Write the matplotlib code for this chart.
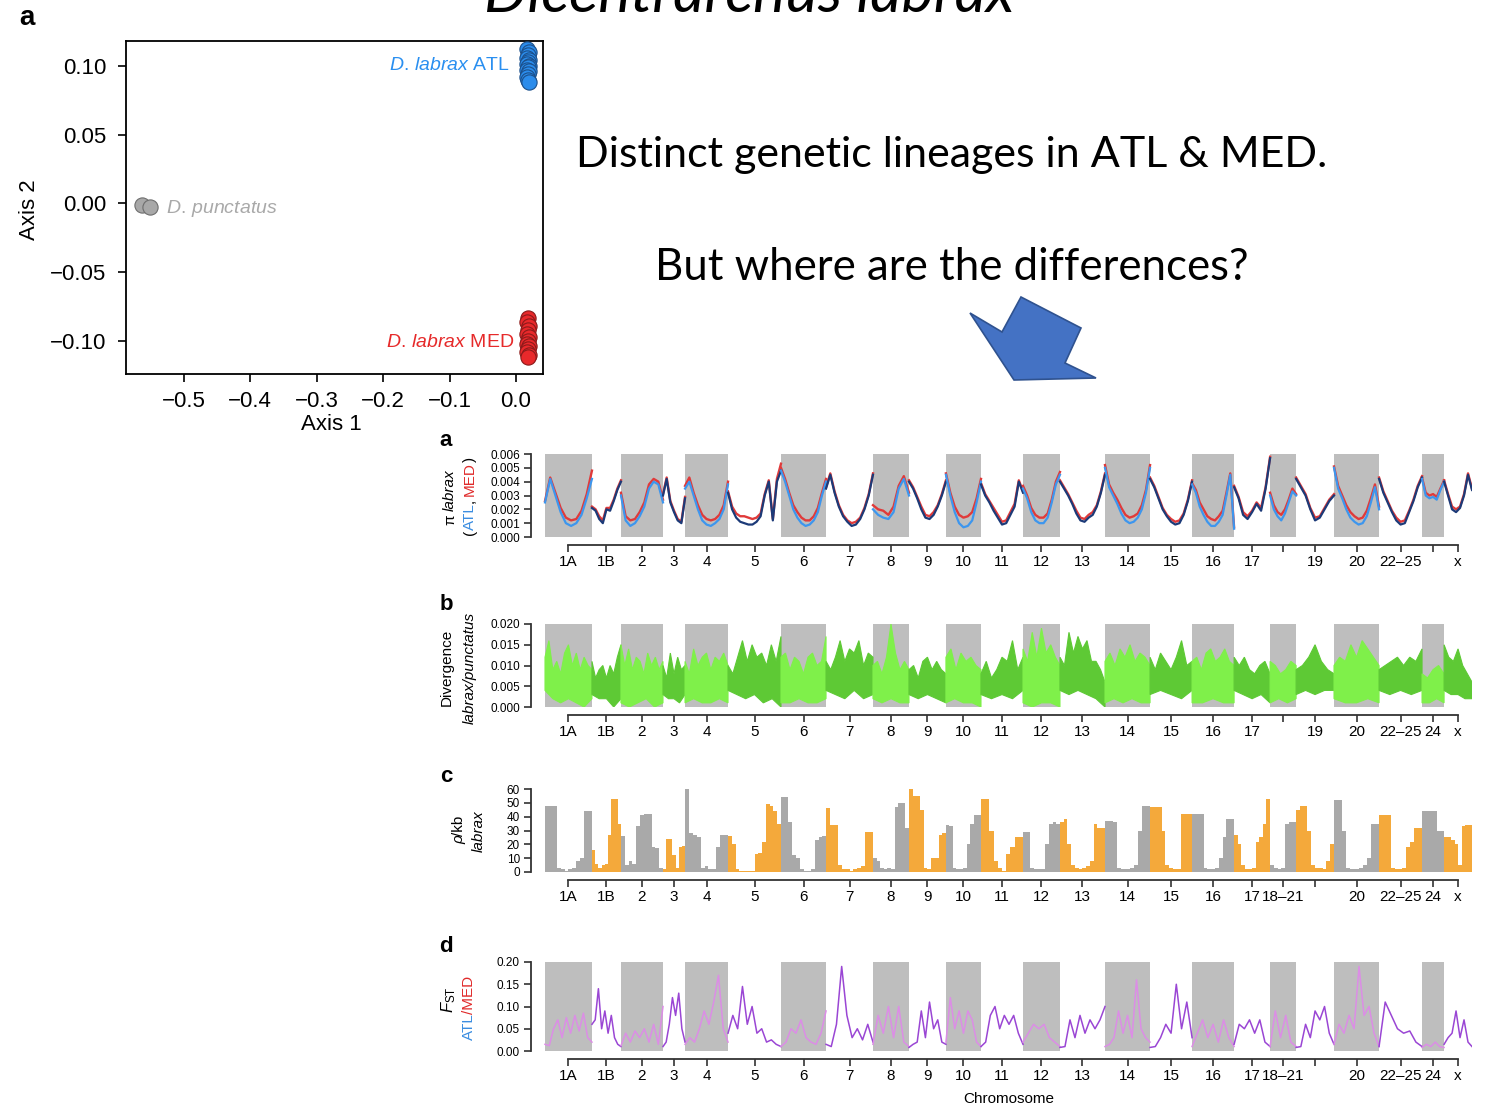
import numpy as np
import matplotlib.pyplot as plt
from matplotlib.patches import Polygon
from matplotlib.ticker import FormatStrFormatter

plt.rcParams['font.family'] = ['Liberation Sans', 'DejaVu Sans']
plt.rcParams['mathtext.fontset'] = 'custom'
plt.rcParams['mathtext.rm'] = 'Liberation Sans'
plt.rcParams['mathtext.it'] = 'Liberation Sans:italic'

W, H = 1486, 1105

# ---- PCA (panel a, top left) ----
atl_x = [0.017, 0.019, 0.018, 0.017, 0.019, 0.018, 0.017, 0.019, 0.018, 0.017, 0.019, 0.018, 0.017, 0.018, 0.019]
atl_y = [0.112, 0.110, 0.108, 0.106, 0.104, 0.103, 0.101, 0.100, 0.099, 0.097, 0.096, 0.094, 0.092, 0.090, 0.088]
med_x = [0.018, 0.017, 0.019, 0.018, 0.017, 0.019, 0.018, 0.017, 0.019, 0.018, 0.017, 0.019, 0.018]
med_y = [-0.083, -0.086, -0.089, -0.092, -0.095, -0.097, -0.100, -0.102, -0.104, -0.106, -0.108, -0.110, -0.112]
pun_x = [-0.563, -0.551]
pun_y = [-0.001, -0.003]
pca_xticks = [-0.5, -0.4, -0.3, -0.2, -0.1, 0.0]
pca_xlabels = ['\u22120.5', '\u22120.4', '\u22120.3', '\u22120.2', '\u22120.1', '0.0']
pca_yticks = [0.10, 0.05, 0.0, -0.05, -0.10]
pca_ylabels = ['0.10', '0.05', '0.00', '\u22120.05', '\u22120.10']

# ---- genome tracks ----
chroms = ['1A', '1B', '2', '3', '4', '5', '6', '7', '8', '9', '10', '11', '12', '13',
          '14', '15', '16', '17', '18\u201321', '19', '20', '22\u201325', '24', 'x']
chrom_mb = [34.3, 21.2, 30.7, 16.1, 31.4, 38.7, 32.9, 34.3, 26.3, 27.0, 25.6, 30.7,
            27.0, 32.9, 32.9, 30.7, 30.7, 26.3, 19.0, 27.7, 32.9, 31.4, 16.1, 20.4]
labels_a = [c if c not in ('18\u201321', '24') else '' for c in chroms]
labels_b = [c if c != '18\u201321' else '' for c in chroms]
labels_cd = [c if c != '19' else '' for c in chroms]

pi_atl = [
    [0.0025, 0.0042, 0.0030, 0.0018, 0.0010, 0.0008, 0.0010, 0.0016, 0.0028, 0.0042],
    [0.0021, 0.0019, 0.0013, 0.0010, 0.0020, 0.0019, 0.0026, 0.0034, 0.0040],
    [0.0030, 0.0012, 0.0008, 0.0010, 0.0015, 0.0022, 0.0035, 0.0040, 0.0038, 0.0025],
    [0.0030, 0.0042, 0.0025, 0.0018, 0.0012, 0.0010, 0.0028],
    [0.0035, 0.0040, 0.0030, 0.0020, 0.0012, 0.0009, 0.0008, 0.0010, 0.0013, 0.0020, 0.0038],
    [0.0032, 0.0020, 0.0014, 0.0011, 0.0010, 0.0009, 0.0009, 0.0011, 0.0015, 0.0030, 0.0040, 0.0012, 0.0040, 0.0048],
    [0.0048, 0.0040, 0.0030, 0.0020, 0.0014, 0.0010, 0.0008, 0.0009, 0.0012, 0.0018, 0.0030, 0.0040],
    [0.0035, 0.0045, 0.0032, 0.0022, 0.0015, 0.0011, 0.0008, 0.0009, 0.0013, 0.0020, 0.0030, 0.0045],
    [0.0020, 0.0016, 0.0014, 0.0013, 0.0018, 0.0035, 0.0042, 0.0030],
    [0.0040, 0.0035, 0.0028, 0.0020, 0.0014, 0.0013, 0.0016, 0.0022, 0.0030, 0.0040],
    [0.0045, 0.0030, 0.0018, 0.0010, 0.0007, 0.0008, 0.0012, 0.0025, 0.0040],
    [0.0038, 0.0030, 0.0025, 0.0019, 0.0014, 0.0009, 0.0010, 0.0016, 0.0022, 0.0040, 0.0032],
    [0.0035, 0.0028, 0.0018, 0.0012, 0.0010, 0.0010, 0.0014, 0.0025, 0.0038, 0.0045],
    [0.0040, 0.0035, 0.0030, 0.0024, 0.0017, 0.0012, 0.0011, 0.0014, 0.0016, 0.0022, 0.0032, 0.0045],
    [0.0050, 0.0036, 0.0030, 0.0024, 0.0017, 0.0012, 0.0010, 0.0011, 0.0014, 0.0020, 0.0032, 0.0050],
    [0.0042, 0.0036, 0.0028, 0.0020, 0.0015, 0.0011, 0.0009, 0.0010, 0.0016, 0.0026, 0.0040],
    [0.0038, 0.0032, 0.0022, 0.0016, 0.0011, 0.0008, 0.0008, 0.0011, 0.0016, 0.0030, 0.0045, 0.0006],
    [0.0036, 0.0028, 0.0016, 0.0013, 0.0018, 0.0024, 0.0019, 0.0035, 0.0057],
    [0.0030, 0.0020, 0.0015, 0.0012, 0.0017, 0.0025, 0.0033, 0.0030],
    [0.0042, 0.0036, 0.0030, 0.0020, 0.0012, 0.0014, 0.0020, 0.0026, 0.0030],
    [0.0050, 0.0035, 0.0028, 0.0020, 0.0014, 0.0011, 0.0009, 0.0010, 0.0015, 0.0025, 0.0036, 0.0020],
    [0.0042, 0.0032, 0.0025, 0.0018, 0.0012, 0.0009, 0.0010, 0.0018, 0.0026, 0.0036, 0.0043],
    [0.0042, 0.0030, 0.0028, 0.0029, 0.0027, 0.0034, 0.0040],
    [0.0040, 0.0030, 0.0020, 0.0018, 0.0021, 0.0030, 0.0045, 0.0034],
]
pi_med = [
    [0.0026, 0.0043, 0.0032, 0.0021, 0.0014, 0.0012, 0.0013, 0.0019, 0.0031, 0.0048],
    [0.0022, 0.0020, 0.0015, 0.0012, 0.0021, 0.0021, 0.0027, 0.0035, 0.0041],
    [0.0032, 0.0015, 0.0012, 0.0013, 0.0018, 0.0025, 0.0038, 0.0042, 0.0040, 0.0027],
    [0.0031, 0.0043, 0.0026, 0.0019, 0.0013, 0.0011, 0.0029],
    [0.0037, 0.0043, 0.0032, 0.0023, 0.0016, 0.0013, 0.0012, 0.0013, 0.0016, 0.0023, 0.0040],
    [0.0033, 0.0022, 0.0017, 0.0015, 0.0015, 0.0014, 0.0013, 0.0014, 0.0017, 0.0031, 0.0041, 0.0013, 0.0042, 0.0053],
    [0.0050, 0.0042, 0.0032, 0.0023, 0.0018, 0.0014, 0.0012, 0.0012, 0.0015, 0.0021, 0.0032, 0.0042],
    [0.0036, 0.0046, 0.0033, 0.0023, 0.0016, 0.0012, 0.0010, 0.0011, 0.0014, 0.0021, 0.0031, 0.0046],
    [0.0023, 0.0020, 0.0019, 0.0016, 0.0022, 0.0037, 0.0044, 0.0032],
    [0.0041, 0.0036, 0.0029, 0.0022, 0.0016, 0.0015, 0.0018, 0.0023, 0.0031, 0.0041],
    [0.0046, 0.0032, 0.0022, 0.0016, 0.0014, 0.0015, 0.0018, 0.0028, 0.0042],
    [0.0039, 0.0031, 0.0026, 0.0021, 0.0016, 0.0011, 0.0012, 0.0018, 0.0024, 0.0041, 0.0033],
    [0.0037, 0.0030, 0.0021, 0.0016, 0.0014, 0.0014, 0.0017, 0.0027, 0.0040, 0.0047],
    [0.0041, 0.0036, 0.0031, 0.0025, 0.0019, 0.0014, 0.0013, 0.0016, 0.0018, 0.0023, 0.0033, 0.0046],
    [0.0052, 0.0038, 0.0032, 0.0027, 0.0021, 0.0016, 0.0014, 0.0015, 0.0017, 0.0023, 0.0034, 0.0052],
    [0.0043, 0.0037, 0.0029, 0.0021, 0.0016, 0.0013, 0.0011, 0.0012, 0.0017, 0.0027, 0.0041],
    [0.0039, 0.0034, 0.0025, 0.0020, 0.0015, 0.0013, 0.0012, 0.0015, 0.0019, 0.0032, 0.0046, 0.0007],
    [0.0037, 0.0029, 0.0018, 0.0015, 0.0019, 0.0025, 0.0021, 0.0036, 0.0058],
    [0.0032, 0.0023, 0.0018, 0.0016, 0.0020, 0.0027, 0.0035, 0.0031],
    [0.0043, 0.0037, 0.0031, 0.0021, 0.0014, 0.0015, 0.0021, 0.0027, 0.0031],
    [0.0051, 0.0037, 0.0030, 0.0023, 0.0018, 0.0015, 0.0013, 0.0014, 0.0019, 0.0028, 0.0038, 0.0022],
    [0.0043, 0.0033, 0.0026, 0.0019, 0.0014, 0.0011, 0.0012, 0.0019, 0.0027, 0.0037, 0.0044],
    [0.0043, 0.0032, 0.0030, 0.0031, 0.0029, 0.0035, 0.0041],
    [0.0041, 0.0031, 0.0022, 0.0020, 0.0022, 0.0031, 0.0046, 0.0035],
]
# divergence: upper and lower edge of the noisy band, per chromosome
div_hi = [
    [0.012, 0.016, 0.009, 0.011, 0.008, 0.013, 0.015, 0.010, 0.013, 0.009, 0.012, 0.010, 0.009],
    [0.011, 0.007, 0.009, 0.010, 0.007, 0.010, 0.008, 0.012, 0.015],
    [0.015, 0.010, 0.014, 0.009, 0.012, 0.011, 0.008, 0.013, 0.010, 0.012, 0.009, 0.011],
    [0.010, 0.007, 0.013, 0.008, 0.012, 0.009, 0.010],
    [0.011, 0.008, 0.014, 0.010, 0.012, 0.013, 0.009, 0.012, 0.011, 0.013, 0.010],
    [0.010, 0.008, 0.012, 0.016, 0.011, 0.015, 0.012, 0.013, 0.010, 0.015, 0.011, 0.017],
    [0.012, 0.013, 0.009, 0.012, 0.011, 0.008, 0.012, 0.013, 0.010, 0.011, 0.017],
    [0.011, 0.009, 0.012, 0.016, 0.011, 0.014, 0.013, 0.016, 0.010, 0.013, 0.012],
    [0.010, 0.011, 0.008, 0.012, 0.020, 0.013, 0.009, 0.011, 0.009],
    [0.009, 0.010, 0.007, 0.011, 0.012, 0.009, 0.011, 0.009, 0.008],
    [0.012, 0.014, 0.009, 0.013, 0.011, 0.012, 0.010, 0.009],
    [0.008, 0.011, 0.007, 0.009, 0.012, 0.011, 0.016, 0.009, 0.012],
    [0.014, 0.011, 0.018, 0.012, 0.019, 0.013, 0.015, 0.012, 0.010],
    [0.012, 0.010, 0.018, 0.013, 0.017, 0.014, 0.016, 0.011, 0.011, 0.009, 0.006],
    [0.011, 0.013, 0.010, 0.014, 0.012, 0.015, 0.011, 0.013, 0.012, 0.010],
    [0.012, 0.009, 0.013, 0.011, 0.009, 0.012, 0.016, 0.010, 0.011],
    [0.011, 0.012, 0.009, 0.013, 0.014, 0.011, 0.012, 0.014, 0.011, 0.010],
    [0.012, 0.010, 0.012, 0.009, 0.008, 0.010, 0.011, 0.008],
    [0.011, 0.010, 0.008, 0.009, 0.011, 0.010],
    [0.009, 0.010, 0.012, 0.015, 0.011, 0.009, 0.008],
    [0.010, 0.012, 0.011, 0.015, 0.012, 0.016, 0.014, 0.012, 0.010],
    [0.009, 0.010, 0.011, 0.012, 0.010, 0.012, 0.011, 0.014],
    [0.008, 0.007, 0.009, 0.010, 0.008],
    [0.015, 0.012, 0.011, 0.014, 0.010, 0.008, 0.006],
]
div_lo = [
    [0.004, 0.002, 0.001, 0.002, 0.001, 0.000, 0.002],
    [0.003, 0.002, 0.002, 0.000, 0.002],
    [0.001, 0.000, 0.001, 0.002, 0.000, 0.001],
    [0.003, 0.002, 0.002, 0.001, 0.003],
    [0.001, 0.002, 0.001, 0.001, 0.002, 0.001],
    [0.004, 0.003, 0.002, 0.003, 0.001, 0.002, 0.000],
    [0.001, 0.001, 0.002, 0.001, 0.001, 0.002],
    [0.004, 0.003, 0.002, 0.004, 0.002, 0.003],
    [0.002, 0.001, 0.002, 0.001, 0.001],
    [0.003, 0.002, 0.003, 0.002, 0.001],
    [0.001, 0.002, 0.001, 0.001, 0.000],
    [0.003, 0.002, 0.003, 0.002, 0.004],
    [0.001, 0.000, 0.001, 0.001, 0.000],
    [0.004, 0.003, 0.004, 0.003, 0.002, 0.000],
    [0.001, 0.002, 0.001, 0.002, 0.001, 0.001],
    [0.003, 0.004, 0.003, 0.002, 0.004],
    [0.001, 0.001, 0.002, 0.001, 0.001],
    [0.004, 0.003, 0.002, 0.003, 0.001],
    [0.001, 0.002, 0.001, 0.002],
    [0.003, 0.004, 0.003, 0.004, 0.004],
    [0.002, 0.001, 0.001, 0.002, 0.001],
    [0.004, 0.003, 0.004, 0.003, 0.004],
    [0.001, 0.001, 0.002, 0.001],
    [0.004, 0.003, 0.003, 0.002, 0.002],
]
rho = [
    [48, 48, 48, 3, 2, 1, 2, 3, 8, 10, 44, 44],
    [16, 6, 3, 5, 6, 27, 53, 53, 35],
    [26, 5, 8, 6, 33, 41, 42, 42, 18, 17, 3],
    [2, 24, 24, 12, 3, 18, 19],
    [60, 28, 27, 25, 3, 4, 2, 2, 18, 27, 27],
    [26, 20, 2, 1, 1, 1, 1, 13, 14, 22, 49, 48, 44, 35],
    [54, 54, 36, 12, 10, 2, 1, 1, 2, 23, 25, 26],
    [46, 34, 34, 5, 2, 2, 1, 2, 3, 4, 29, 29],
    [10, 8, 3, 2, 3, 2, 47, 50, 50, 32],
    [60, 55, 55, 45, 3, 2, 10, 10, 27, 28],
    [34, 33, 3, 2, 2, 3, 20, 35, 41, 41],
    [53, 53, 30, 8, 3, 1, 13, 18, 25, 25],
    [29, 29, 3, 2, 2, 2, 20, 35, 36, 35],
    [36, 38, 20, 5, 3, 2, 3, 4, 8, 35, 32, 32],
    [37, 37, 36, 3, 2, 2, 3, 5, 30, 48, 48],
    [47, 47, 47, 30, 5, 3, 2, 2, 42, 42, 42],
    [42, 42, 42, 3, 2, 2, 3, 10, 25, 38, 38],
    [27, 20, 5, 2, 2, 3, 22, 25, 35, 53],
    [5, 3, 2, 3, 35, 36, 36],
    [45, 48, 48, 30, 5, 3, 3, 2, 8, 20],
    [52, 52, 30, 3, 2, 2, 3, 5, 10, 35, 35],
    [41, 41, 41, 3, 2, 2, 3, 18, 22, 32, 32],
    [44, 44, 44, 44, 30, 30],
    [25, 25, 23, 20, 5, 33, 34, 34],
]
fst = [
    [0.015, 0.012, 0.05, 0.07, 0.03, 0.075, 0.04, 0.08, 0.045, 0.085, 0.03, 0.02],
    [0.06, 0.07, 0.14, 0.05, 0.09, 0.04, 0.08, 0.03, 0.015, 0.01],
    [0.012, 0.04, 0.02, 0.045, 0.03, 0.05, 0.02, 0.06, 0.015, 0.10],
    [0.01, 0.02, 0.06, 0.12, 0.08, 0.13, 0.05, 0.02],
    [0.015, 0.03, 0.02, 0.05, 0.09, 0.06, 0.11, 0.17, 0.05, 0.02],
    [0.04, 0.08, 0.05, 0.145, 0.06, 0.10, 0.04, 0.05, 0.02, 0.025, 0.015, 0.01],
    [0.01, 0.02, 0.05, 0.04, 0.07, 0.03, 0.02, 0.015, 0.04, 0.09],
    [0.015, 0.01, 0.06, 0.19, 0.08, 0.03, 0.05, 0.025, 0.06, 0.02],
    [0.015, 0.08, 0.04, 0.10, 0.03, 0.10, 0.02, 0.01],
    [0.008, 0.015, 0.02, 0.09, 0.03, 0.11, 0.05, 0.07, 0.02, 0.015],
    [0.02, 0.12, 0.05, 0.09, 0.04, 0.09, 0.07, 0.02, 0.01],
    [0.01, 0.02, 0.08, 0.10, 0.05, 0.08, 0.06, 0.08, 0.04, 0.015],
    [0.02, 0.04, 0.06, 0.05, 0.06, 0.03, 0.02, 0.01],
    [0.008, 0.01, 0.07, 0.03, 0.08, 0.04, 0.07, 0.05, 0.07, 0.10],
    [0.01, 0.015, 0.03, 0.09, 0.04, 0.08, 0.03, 0.16, 0.05, 0.03, 0.02],
    [0.008, 0.01, 0.03, 0.06, 0.04, 0.15, 0.05, 0.11, 0.03],
    [0.01, 0.04, 0.07, 0.03, 0.06, 0.02, 0.07, 0.03, 0.01],
    [0.015, 0.06, 0.05, 0.07, 0.04, 0.07, 0.02, 0.01],
    [0.01, 0.09, 0.03, 0.08, 0.02, 0.01],
    [0.008, 0.01, 0.06, 0.03, 0.09, 0.07, 0.10, 0.04, 0.015],
    [0.015, 0.06, 0.04, 0.08, 0.05, 0.19, 0.08, 0.10, 0.04, 0.01],
    [0.01, 0.11, 0.08, 0.05, 0.04, 0.045, 0.02, 0.01],
    [0.008, 0.015, 0.01, 0.02, 0.01, 0.008],
    [0.015, 0.03, 0.04, 0.09, 0.03, 0.07, 0.02, 0.01],
]

GREY_BLOCK = '#bebebe'


def fx(x):
    return x / W


def fy(y):
    return 1 - y / H


fig = plt.figure(figsize=(W / 100, H / 100), dpi=100)

# slide texts
fig.text(fx(749), fy(12), 'Dicentrarchus labrax', fontsize=44, style='italic',
         family=['Lato', 'DejaVu Sans'], ha='center', va='baseline')
fig.text(fx(952), fy(155), 'Distinct genetic lineages in ATL & MED.', fontsize=31,
         family=['Lato', 'DejaVu Sans'], ha='center', va='center')
fig.text(fx(952), fy(268), 'But where are the differences?', fontsize=31.5,
         family=['Lato', 'DejaVu Sans'], ha='center', va='center')
arrow_px = [(970, 313), (1002, 332), (1021, 297), (1081, 328), (1065, 363), (1096, 378), (1014, 380)]
fig.patches.append(Polygon([(fx(a), fy(b)) for a, b in arrow_px], closed=True,
                           transform=fig.transFigure, facecolor='#4472c4',
                           edgecolor='#2f528f', linewidth=1.2))

# ---- PCA ----
fig.text(fx(27), fy(18), 'a', fontsize=20, fontweight='bold', ha='center', va='center')
ax0 = fig.add_axes([fx(126), fy(374), (543 - 126) / W, (374 - 41) / H])
ax0.scatter(pun_x, pun_y, s=120, color='#a8a8a8', edgecolor='#6e6e6e', linewidth=0.8, zorder=3)
ax0.scatter(atl_x, atl_y, s=120, color='#2b8ceb', edgecolor='#1b4f8a', linewidth=0.8, zorder=3)
ax0.scatter(med_x, med_y, s=120, color='#e8292b', edgecolor='#8a1a1a', linewidth=0.8, zorder=3)
ax0.set_xlim(-0.587, 0.0407)
ax0.set_ylim(-0.124, 0.118)
ax0.set_xticks(pca_xticks)
ax0.set_xticklabels(pca_xlabels)
ax0.set_yticks(pca_yticks)
ax0.set_yticklabels(pca_ylabels)
ax0.tick_params(direction='out', length=6, width=1.2, labelsize=16)
ax0.tick_params(axis='y', pad=8)
ax0.tick_params(axis='x', pad=6)
for sp in ax0.spines.values():
    sp.set_linewidth(1.3)
ax0.text(-0.009, 0.10, r'$\mathit{D.\,labrax}$ ATL', color='#2a8ff0', fontsize=14,
         ha='right', va='center')
ax0.text(-0.003, -0.101, r'$\mathit{D.\,labrax}$ MED', color='#e62a2a', fontsize=14,
         ha='right', va='center')
ax0.text(-0.527, -0.004, r'$\mathit{D.\,punctatus}$', color='#a9a9a9', fontsize=14,
         ha='left', va='center')
fig.text(fx(331), fy(425), 'Axis 1', fontsize=16, ha='center', va='center')
fig.text(fx(30), fy(210), 'Axis 2', fontsize=16, ha='center', va='center', rotation=90)

# ---- genome tracks ----
sizes = np.array(chrom_mb)
starts = np.concatenate([[0], np.cumsum(sizes)[:-1]])
centers = starts + sizes / 2
total = sizes.sum()
x_left = -(545 - 531) / (1472 - 545) * total


def track_axes(y_top, y_zero, ymax, yticks, fmt, labels, blocks=True):
    ax = fig.add_axes([fx(531), fy(y_zero), (1472 - 531) / W, (y_zero - y_top) / H])
    ax.set_xlim(x_left, total)
    ax.set_ylim(0, ymax)
    if blocks:
        for i in range(0, len(chroms), 2):
            ax.axvspan(starts[i], starts[i] + sizes[i], ymin=0, ymax=1, color=GREY_BLOCK,
                       linewidth=0, zorder=0)
    for s in ('top', 'right'):
        ax.spines[s].set_visible(False)
    ax.spines['left'].set_bounds(0, ymax)
    ax.spines['bottom'].set_position(('outward', 6))
    ax.spines['bottom'].set_bounds(centers[0], centers[-1])
    for s in ('left', 'bottom'):
        ax.spines[s].set_linewidth(1.3)
        ax.spines[s].set_color('#333333')
    ax.set_yticks(yticks)
    ax.yaxis.set_major_formatter(FormatStrFormatter(fmt))
    ax.set_xticks(centers)
    ax.set_xticklabels(labels)
    ax.tick_params(axis='y', direction='out', length=5, width=1.2, labelsize=8.5, pad=3,
                   color='#333333')
    ax.tick_params(axis='x', direction='out', length=5, width=1.2, labelsize=11, pad=2,
                   color='#333333')
    return ax


def chrom_pos(i, n):
    return np.linspace(starts[i], starts[i] + sizes[i], n)


def stacked_label(x, yc, pieces, size, gaps=None):
    # pieces: (text, color, style) drawn bottom-to-top, rotated 90 degrees
    texts = [fig.text(fx(x), 0, s, color=c, fontsize=size, style=st, rotation=90,
                      ha='center', va='bottom') for s, c, st in pieces]
    fig.canvas.draw()
    r = fig.canvas.get_renderer()
    hs = [t.get_window_extent(r).height for t in texts]
    gaps = gaps or [0] * len(texts)
    y = (H - yc) - (sum(hs) + sum(gaps)) / 2
    for t, h, g in zip(texts, hs, gaps):
        t.set_y(y / H)
        y += h + g


BLUE_T = '#3b8de0'
RED_T = '#e02a2a'
LAB = 11

# a: nucleotide diversity
fig.text(fx(446), fy(441), 'a', fontsize=16, fontweight='bold', ha='center', va='center')
ax1 = track_axes(454, 537, 0.006, np.arange(0, 0.0061, 0.001), '%.3f', labels_a)
for i in range(len(chroms)):
    xs = chrom_pos(i, len(pi_atl[i]))
    ax1.plot(xs, pi_med[i], color='#e03a3a', linewidth=1.7, zorder=2)
    ax1.plot(xs, pi_atl[i], color='#3d96ee' if i % 2 == 0 else '#1c3a78',
             linewidth=1.6, zorder=3)
stacked_label(450, 497, [('\u03c0', 'black', 'normal'), ('labrax', 'black', 'italic')], LAB, [3, 0])
stacked_label(470, 496, [('(', 'black', 'normal'), ('ATL', BLUE_T, 'normal'),
                         (',', 'black', 'normal'), ('MED', RED_T, 'normal'),
                         (')', 'black', 'normal')], LAB, [0, 0, 3, 0, 0])

# b: divergence
fig.text(fx(446), fy(605), 'b', fontsize=16, fontweight='bold', ha='center', va='center')
ax2 = track_axes(624, 707, 0.020, np.arange(0, 0.0201, 0.005), '%.3f', labels_b)
for i in range(len(chroms)):
    col = '#7ff04a' if i % 2 == 0 else '#5ec935'
    xh = chrom_pos(i, len(div_hi[i]))
    xl = chrom_pos(i, len(div_lo[i]))
    ax2.fill(np.concatenate([xh, xl[::-1]]), np.concatenate([div_hi[i], div_lo[i][::-1]]),
             color=col, linewidth=0.8, zorder=3)
fig.text(fx(447), fy(667), 'Divergence', fontsize=LAB, rotation=90, ha='center', va='center')
fig.text(fx(470), fy(668), 'labrax/punctatus', fontsize=LAB, style='italic', rotation=90,
         ha='center', va='center')

# c: recombination
fig.text(fx(446), fy(776), 'c', fontsize=16, fontweight='bold', ha='center', va='center')
ax3 = track_axes(789, 872, 60, np.arange(0, 61, 10), '%d', labels_cd, blocks=False)
for i in range(len(chroms)):
    edges = np.linspace(starts[i], starts[i] + sizes[i], len(rho[i]) + 1)
    ax3.stairs(rho[i], edges, fill=True, color='#a9a9a9' if i % 2 == 0 else '#f4a93b',
               linewidth=0, zorder=3)
stacked_label(459, 830, [('\u03c1', 'black', 'italic'), ('/kb', 'black', 'normal')], LAB)
fig.text(fx(479), fy(831), 'labrax', fontsize=LAB, style='italic', rotation=90,
         ha='center', va='center')

# d: FST
fig.text(fx(446), fy(947), 'd', fontsize=16, fontweight='bold', ha='center', va='center')
ax4 = track_axes(962, 1051, 0.20, np.arange(0, 0.201, 0.05), '%.2f', labels_cd)
for i in range(len(chroms)):
    xs = chrom_pos(i, len(fst[i]))
    ax4.plot(xs, fst[i], color='#dc8de6' if i % 2 == 0 else '#9a46d4',
             linewidth=1.1, zorder=3)
fig.text(fx(449), fy(1000), r'$\mathit{F}_{\mathrm{ST}}$', fontsize=12, rotation=90,
         ha='center', va='center')
stacked_label(469, 1008, [('ATL', BLUE_T, 'normal'), ('/MED', RED_T, 'normal')], LAB)
fig.text(fx(1009), fy(1099), 'Chromosome', fontsize=11, ha='center', va='center')

fig.savefig('out.png', dpi=100)
